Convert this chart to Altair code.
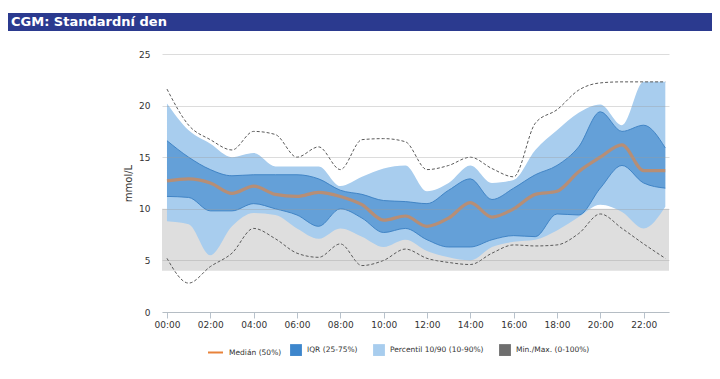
import altair as alt
import pandas as pd

hours = list(range(24))
p_min = [5.2, 2.8, 4.4, 5.7, 8.1, 7.1, 5.7, 5.3, 6.6, 4.5, 5.0, 6.1, 5.2, 4.8, 4.6, 5.7, 6.5, 6.4, 6.5, 7.6, 9.5, 8.1, 6.6, 5.2]
p10 = [8.8, 8.5, 5.5, 8.3, 9.6, 9.4, 8.1, 7.1, 8.1, 7.3, 6.3, 7.0, 5.9, 5.3, 5.0, 6.3, 6.8, 7.0, 7.9, 9.2, 10.4, 9.7, 8.1, 10.2]
p25 = [11.2, 11.1, 9.8, 9.8, 10.5, 10.0, 9.4, 8.3, 10.0, 9.1, 7.7, 8.1, 7.0, 6.3, 6.3, 7.0, 7.4, 7.3, 9.5, 9.4, 12.0, 14.2, 12.5, 12.0]
p50 = [12.7, 12.9, 12.5, 11.5, 12.2, 11.4, 11.2, 11.6, 11.2, 10.4, 8.9, 9.3, 8.3, 9.1, 10.6, 9.2, 10.0, 11.4, 11.7, 13.6, 15.0, 16.2, 13.7, 13.7]
p75 = [16.6, 15.0, 13.8, 13.2, 13.3, 13.3, 13.3, 12.9, 11.8, 11.4, 10.8, 10.7, 10.5, 11.8, 12.9, 10.9, 12.0, 13.3, 14.2, 16.0, 19.4, 17.5, 18.1, 15.9]
p90 = [20.2, 17.6, 16.3, 15.0, 15.4, 14.1, 14.1, 14.1, 12.2, 13.1, 13.9, 14.2, 11.7, 12.5, 14.2, 12.5, 12.8, 15.7, 17.6, 19.3, 20.1, 18.1, 22.3, 22.3]
p_max = [21.6, 18.1, 16.7, 15.7, 17.5, 17.2, 15.0, 16.0, 13.8, 16.7, 16.8, 16.5, 13.8, 14.2, 15.0, 13.9, 13.1, 18.3, 19.6, 21.5, 22.2, 22.3, 22.3, 22.3]

target_low = [4]
target_high = [10]
x_ticks = list(range(0, 24, 2))
y_ticks = [0, 5, 10, 15, 20, 25]

title_text = "CGM: Standardní den"
lbl_median = "Medián (50%)"
lbl_iqr = "IQR (25-75%)"
lbl_p1090 = "Percentil 10/90 (10-90%)"
lbl_minmax = "Min./Max. (0-100%)"

W, H = 507, 258

df = pd.DataFrame({"h": hours, "mn": p_min, "p10": p10, "p25": p25, "p50": p50,
                   "p75": p75, "p90": p90, "mx": p_max})
band_df = pd.DataFrame({"lo": target_low, "hi": target_high})
one = pd.DataFrame({"t": [title_text]})

xs = alt.Scale(domain=[-0.23, 23.17], nice=False, zero=False)
ys = alt.Scale(domain=[0, 25], nice=False)

x_axis = alt.Axis(values=x_ticks, grid=False,
                  labelExpr="(datum.value < 10 ? '0' : '') + datum.value + ':00'",
                  domainColor="#C3CFDB", tickColor="#B8C2CC", tickSize=6,
                  labelPadding=2, labelFontSize=9, labelColor="#333333", title=None)
y_axis = alt.Axis(values=y_ticks, grid=True, gridColor="#9A9A9A", gridOpacity=0.35,
                  domain=False, ticks=False, zindex=1,
                  labelPadding=12, labelFontSize=9, labelColor="#333333",
                  title="mmol/L", titleFontSize=10, titleFontWeight="normal",
                  titleColor="#333333", titlePadding=5)

fill_scale = alt.Scale(domain=[lbl_iqr, lbl_p1090, lbl_minmax],
                       range=["#3D86CC", "#A8CDEE", "#6E6E6E"])
fill_legend = alt.Legend(orient="none", legendX=128, legendY=290, direction="horizontal",
                         title=None, symbolType="square", symbolSize=140,
                         labelFontSize=7.5, labelFontWeight=500, labelColor="#333333",
                         columnPadding=15, labelOffset=5, symbolStrokeWidth=0, symbolOpacity=1)
stroke_legend = alt.Legend(orient="none", legendX=45, legendY=290, direction="horizontal",
                           title=None, symbolType="stroke", symbolSize=225,
                           symbolStrokeWidth=2, labelFontSize=7.5, labelFontWeight=500,
                           labelColor="#333333", labelOffset=5, symbolOpacity=1)

base = alt.Chart(df)

band = alt.Chart(band_df).mark_rect(color="#DEDEDE").encode(
    x=alt.value(0), x2=alt.value(W),
    y=alt.Y("lo:Q", scale=ys, axis=y_axis), y2="hi:Q")

outer = base.transform_calculate(name=f"'{lbl_p1090}'").mark_area(
    interpolate="monotone", opacity=1).encode(
    x=alt.X("h:Q", scale=xs, axis=x_axis),
    y=alt.Y("p10:Q", scale=ys), y2="p90:Q",
    fill=alt.Fill("name:N", scale=fill_scale, legend=fill_legend))

inner = base.transform_calculate(name=f"'{lbl_iqr}'").mark_area(
    interpolate="monotone", fillOpacity=0.64).encode(
    x=alt.X("h:Q", scale=xs), y=alt.Y("p25:Q", scale=ys), y2="p75:Q",
    fill=alt.Fill("name:N", scale=fill_scale, legend=fill_legend))

edge_lo = base.mark_line(interpolate="monotone", color="#3A7FC2", strokeWidth=0.9).encode(
    x=alt.X("h:Q", scale=xs), y=alt.Y("p25:Q", scale=ys))
edge_hi = base.mark_line(interpolate="monotone", color="#3A7FC2", strokeWidth=0.9).encode(
    x=alt.X("h:Q", scale=xs), y=alt.Y("p75:Q", scale=ys))

median = base.transform_calculate(name=f"'{lbl_median}'").mark_line(
    interpolate="monotone", strokeWidth=3.2, strokeOpacity=0.62).encode(
    x=alt.X("h:Q", scale=xs), y=alt.Y("p50:Q", scale=ys),
    stroke=alt.Stroke("name:N", scale=alt.Scale(domain=[lbl_median], range=["#E8823A"]),
                      legend=stroke_legend))

dmin = base.mark_line(interpolate="monotone", color="#5A5A5A", strokeWidth=1,
                      strokeDash=[3, 2]).encode(
    x=alt.X("h:Q", scale=xs), y=alt.Y("mn:Q", scale=ys))
dmax = base.mark_line(interpolate="monotone", color="#5A5A5A", strokeWidth=1,
                      strokeDash=[3, 2]).encode(
    x=alt.X("h:Q", scale=xs), y=alt.Y("mx:Q", scale=ys))

bar = alt.Chart(one).mark_rect(color="#2B3A8F").encode(
    x=alt.value(-154), x2=alt.value(W + 43), y=alt.value(-41), y2=alt.value(-23))
txt = alt.Chart(one).mark_text(align="left", baseline="middle", color="white",
                               font="DejaVu Sans", fontWeight="bold", fontSize=13).encode(
    x=alt.value(-151), y=alt.value(-32), text="t:N")

chart = alt.layer(band, outer, inner, edge_lo, edge_hi, median, dmin, dmax, bar, txt).properties(
    width=W, height=H,
    autosize=alt.AutoSizeParams(type="none"),
    padding={"left": 154, "top": 46, "right": 43, "bottom": 55},
).resolve_scale(fill="shared").configure(
    font="DejaVu Sans", view=alt.ViewConfig(stroke=None))

chart.save("out.html", embed_options={"renderer": "svg", "actions": False})
